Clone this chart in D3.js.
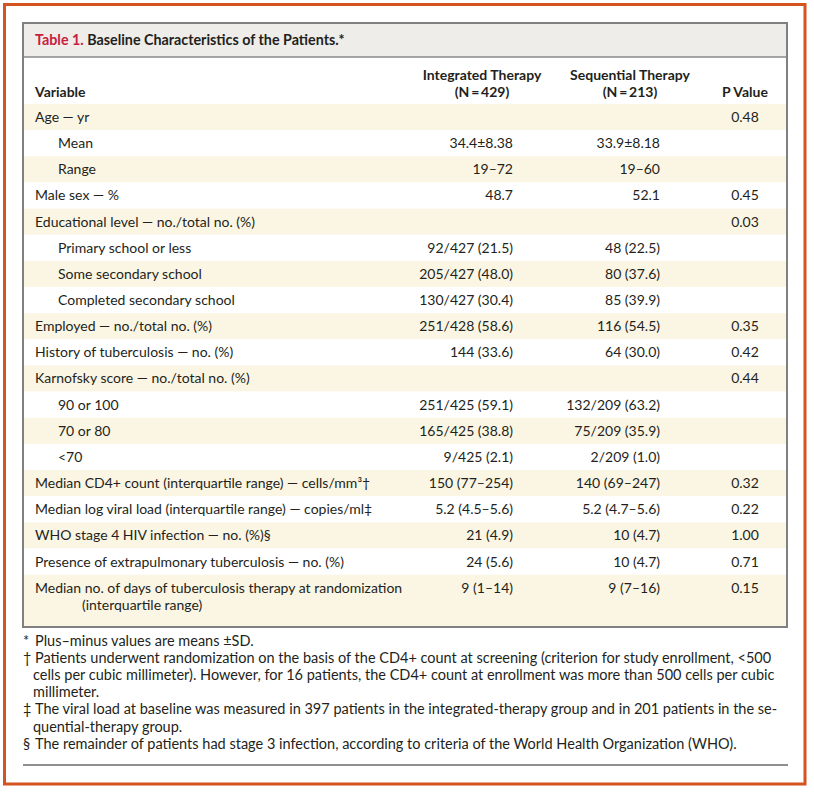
<!DOCTYPE html>
<html>
<head>
<meta charset="utf-8">
<script src="https://cdn.jsdelivr.net/npm/d3@7"></script>
<style>
  body { margin: 0; background: #fff; }
  text { font-family: Lato, "Open Sans", sans-serif; fill: #231f20; }
</style>
</head>
<body>
<div id="table1"></div>
<script>
// table content
const variables = [
  "Age — yr", "Mean", "Range", "Male sex — %",
  "Educational level — no./total no. (%)", "Primary school or less", "Some secondary school", "Completed secondary school",
  "Employed — no./total no. (%)", "History of tuberculosis — no. (%)",
  "Karnofsky score — no./total no. (%)", "90 or 100", "70 or 80", "<70",
  "Median CD4+ count (interquartile range) — cells/mm³†",
  "Median log viral load (interquartile range) — copies/ml‡",
  "WHO stage 4 HIV infection — no. (%)§",
  "Presence of extrapulmonary tuberculosis — no. (%)",
  "Median no. of days of tuberculosis therapy at randomization|(interquartile range)"
];
const level = [0, 1, 1, 0, 0, 1, 1, 1, 0, 0, 0, 1, 1, 1, 0, 0, 0, 0, 0];
const integrated = [
  "", "34.4±8.38", "19–72", "48.7", "", "92/427 (21.5)", "205/427 (48.0)", "130/427 (30.4)",
  "251/428 (58.6)", "144 (33.6)", "", "251/425 (59.1)", "165/425 (38.8)", "9/425 (2.1)",
  "150 (77–254)", "5.2 (4.5–5.6)", "21 (4.9)", "24 (5.6)", "9 (1–14)"
];
const sequential = [
  "", "33.9±8.18", "19–60", "52.1", "", "48 (22.5)", "80 (37.6)", "85 (39.9)",
  "116 (54.5)", "64 (30.0)", "", "132/209 (63.2)", "75/209 (35.9)", "2/209 (1.0)",
  "140 (69–247)", "5.2 (4.7–5.6)", "10 (4.7)", "10 (4.7)", "9 (7–16)"
];
const pValues = [
  "0.48", "", "", "0.45", "0.03", "", "", "", "0.35", "0.42", "0.44", "", "", "",
  "0.32", "0.22", "1.00", "0.71", "0.15"
];
const headers = [["Variable"], ["Integrated Therapy", "(N\u2009=\u2009429)"], ["Sequential Therapy", "(N\u2009=\u2009213)"], ["P Value"]];
const footnotes = [
  ["*", "Plus–minus values are means ±SD."],
  ["†", "Patients underwent randomization on the basis of the CD4+ count at screening (criterion for study enrollment, <500"],
  ["", "cells per cubic millimeter). However, for 16 patients, the CD4+ count at enrollment was more than 500 cells per cubic"],
  ["", "millimeter."],
  ["‡", "The viral load at baseline was measured in 397 patients in the integrated-therapy group and in 201 patients in the se-"],
  ["", "quential-therapy group."],
  ["§", "The remainder of patients had stage 3 infection, according to criteria of the World Health Organization (WHO)."]
];

const width = 814, height = 793;
const box = {left: 23, right: 787, top: 23, titleBottom: 57, bodyTop: 104, bottom: 627};

let svg = d3.select("#table1")
    .append("svg")
    .attr("width", width)
    .attr("height", height);

// outer orange frame
svg.append("rect")
    .attr("x", 4.5).attr("y", 4.5)
    .attr("width", 800.5).attr("height", 779.5)
    .attr("fill", "none")
    .attr("stroke", "#d4531f")
    .attr("stroke-width", 3);

// title bar
svg.append("rect")
    .attr("x", box.left).attr("y", box.top)
    .attr("width", box.right - box.left).attr("height", box.titleBottom - box.top)
    .attr("fill", "#efede9");

let title = svg.append("text")
    .attr("x", 35).attr("y", 45)
    .style("font-size", "14.3px")
    .style("font-weight", "bold");
title.append("tspan").style("fill", "#c8203e").text("Table 1. ");
title.append("tspan").text("Baseline Characteristics of the Patients.*");

// row units: last row is two lines tall
let units = variables.map(v => v.split("|").length);
let starts = d3.cumsum([0].concat(units));
let y = d3.scaleLinear()
    .domain([0, d3.sum(units)])
    .range([box.bodyTop, box.bottom]);

let x = d3.scaleOrdinal()
    .domain(["var", "int", "seq", "p"])
    .range([35, 513, 660, 745]);

let rows = svg.append("g").selectAll("g")
    .data(variables)
    .join("g")
    .attr("transform", (d, i) => `translate(0, ${y(starts[i])})`);

rows.append("rect")
    .attr("x", box.left).attr("width", box.right - box.left)
    .attr("height", (d, i) => y(starts[i + 1]) - y(starts[i]))
    .attr("fill", (d, i) => i % 2 === 0 ? "#fbf6e4" : "#ffffff");

const lineH = y(1) - y(0);
const fs = "14px";

rows.each(function(d, i) {
    let g = d3.select(this);
    let parts = d.split("|");
    parts.forEach((p, k) => {
        g.append("text")
            .attr("x", x("var") + (level[i] ? 23 : 0) + (k > 0 ? 47 : 0))
            .attr("y", lineH / 2 + k * 17)
            .attr("dy", "0.35em")
            .style("font-size", fs)
            .text(p);
    });
    g.append("text")
        .attr("x", x("int")).attr("y", lineH / 2).attr("dy", "0.35em")
        .style("font-size", fs).style("text-anchor", "end")
        .text(integrated[i]);
    g.append("text")
        .attr("x", x("seq")).attr("y", lineH / 2).attr("dy", "0.35em")
        .style("font-size", fs).style("text-anchor", "end")
        .text(sequential[i]);
    g.append("text")
        .attr("x", x("p")).attr("y", lineH / 2).attr("dy", "0.35em")
        .style("font-size", fs).style("text-anchor", "middle")
        .text(pValues[i]);
});

// column headers
let headX = [35, 482, 630, 745];
headers.forEach((h, i) => {
    h.forEach((line, k) => {
        svg.append("text")
            .attr("x", headX[i])
            .attr("y", 97 - (h.length - 1 - k) * 17)
            .style("font-size", fs)
            .style("font-weight", "bold")
            .style("text-anchor", i === 0 ? "start" : "middle")
            .text(line);
    });
});

// table borders
svg.append("line")
    .attr("x1", box.left).attr("x2", box.right)
    .attr("y1", box.titleBottom).attr("y2", box.titleBottom)
    .attr("stroke", "#8a8a8a").attr("stroke-width", 1.5);
svg.append("rect")
    .attr("x", box.left).attr("y", box.top)
    .attr("width", box.right - box.left).attr("height", box.bottom - box.top)
    .attr("fill", "none")
    .attr("stroke", "#808080")
    .attr("stroke-width", 2);

// footnotes
let notes = svg.append("g");
footnotes.forEach((f, i) => {
    let yy = 646 + i * 17.1;
    if (f[0]) {
        notes.append("text").attr("x", 23).attr("y", yy)
            .style("font-size", "14.5px").text(f[0]);
    }
    notes.append("text").attr("x", f[0] ? 35 : 33).attr("y", yy)
        .style("font-size", "14.5px").text(f[1]);
});

svg.append("line")
    .attr("x1", box.left).attr("x2", 788)
    .attr("y1", 765).attr("y2", 765)
    .attr("stroke", "#231f20").attr("stroke-width", 1.2);
</script>
</body>
</html>
